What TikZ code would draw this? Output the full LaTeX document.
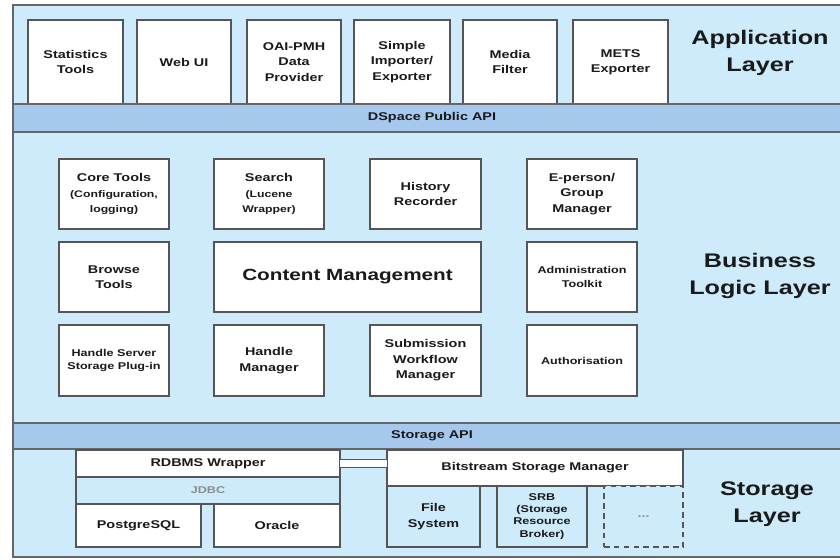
\documentclass[tikz,border=0pt]{standalone}
\usepackage{fontspec}
\setmainfont{Liberation Sans}[FakeStretch=1.28]
\definecolor{LayerBlue}{HTML}{CDEBFB}
\definecolor{ApiBlue}{HTML}{A6C8EC}
\definecolor{BoxLine}{HTML}{555555}
\definecolor{FrameLine}{HTML}{666666}
\definecolor{MutedText}{HTML}{8C8C8C}
\definecolor{TextColor}{HTML}{1A1A1A}
% block from pixel corners: name, x1, y1, x2, y2, style, text
\newcommand{\blockat}[7]{%
	\node[#6, minimum width={(#4-#2)*0.025cm}, minimum height={(#5-#3)*0.025cm}] (#1) at ({(#2+#4)/2},{(#3+#5)/2}) {#7};
}
\newcommand{\minor}[1]{{\fontsize{6.8}{9}\selectfont #1}}
\tikzset{
	unit/.style={draw=BoxLine, line width=1.1pt, fill=white, inner sep=0pt, align=center, text=TextColor, font=\bfseries\fontsize{8}{11}\selectfont},
	smallunit/.style={unit, font=\bfseries\fontsize{7}{9.5}\selectfont},
	tintunit/.style={unit, fill=LayerBlue},
	spareunit/.style={unit, fill=LayerBlue, dashed, dash pattern=on 4pt off 3pt, text=MutedText},
	apibar/.style={draw=FrameLine, line width=1.1pt, fill=ApiBlue, inner sep=0pt, text=TextColor, font=\bfseries\fontsize{8}{11}\selectfont},
	layerlabel/.style={align=center, text=TextColor, font=\bfseries\fontsize{14}{19}\selectfont},
	pipe/.style={draw=BoxLine, line width=1.1pt, double=white, double distance=4.5pt, shorten <=-0.7pt, shorten >=-0.7pt}
}

\begin{document}
\begin{tikzpicture}[x=0.025cm,y=-0.025cm]
	\useasboundingbox (0,0) rectangle (840,559);
	\fill[white] (0,0) rectangle (840,559);
	\draw[draw=FrameLine, line width=1.1pt, fill=LayerBlue] (13,5) rectangle (851,557);

	% Application layer
	\blockat{stats}{28}{20}{123}{104}{unit}{Statistics\\Tools}
	\blockat{webui}{137}{20}{231}{104}{unit}{Web UI}
	\blockat{oaipmh}{247}{20}{341}{104}{unit}{OAI-PMH\\Data\\Provider}
	\blockat{importer}{354}{20}{450}{104}{unit}{Simple\\Importer/\\Exporter}
	\blockat{media}{463}{20}{557}{104}{unit}{Media\\Filter}
	\blockat{mets}{573}{20}{668}{104}{unit}{METS\\Exporter}
	\node[layerlabel] (applabel) at (760,53) {Application\\Layer};

	\blockat{publicapi}{13}{104}{851}{132}{apibar}{DSpace Public API}

	% Business logic layer
	\blockat{coretools}{59}{159}{169}{229}{unit}{Core Tools\\\minor{(Configuration,}\\\minor{logging)}}
	\blockat{search}{214}{159}{324}{229}{unit}{Search\\\minor{(Lucene}\\\minor{Wrapper)}}
	\blockat{history}{370}{159}{481}{229}{unit}{History\\Recorder}
	\blockat{eperson}{527}{159}{637}{229}{unit}{E-person/\\Group\\Manager}
	\blockat{browse}{59}{242}{169}{312}{unit}{Browse\\Tools}
	\blockat{content}{214}{242}{481}{312}{unit, font=\bfseries\fontsize{11.5}{14}\selectfont}{Content Management}
	\blockat{admin}{527}{242}{637}{312}{smallunit}{Administration\\Toolkit}
	\blockat{handleserver}{59}{325}{169}{396}{smallunit}{Handle Server\\Storage Plug-in}
	\blockat{handlemgr}{214}{325}{324}{396}{unit}{Handle\\Manager}
	\blockat{submission}{370}{325}{481}{396}{unit}{Submission\\Workflow\\Manager}
	\blockat{authz}{527}{325}{637}{396}{smallunit}{Authorisation}
	\node[layerlabel] (bizlabel) at (760,276) {Business\\Logic Layer};

	\blockat{storageapi}{13}{423}{851}{449}{apibar}{Storage API}

	% Storage layer
	\blockat{rdbms}{76}{450}{340}{477}{unit}{RDBMS Wrapper}
	\blockat{jdbc}{76}{477}{340}{504}{tintunit, text=MutedText, font=\bfseries\fontsize{7}{9}\selectfont}{JDBC}
	\blockat{postgres}{76}{504}{201}{547}{unit}{PostgreSQL}
	\blockat{oracle}{214}{504}{340}{547}{unit}{Oracle}
	\blockat{bsm}{387}{450}{683}{486}{unit}{Bitstream Storage Manager}
	\blockat{filesys}{387}{486}{480}{547}{tintunit}{File\\System}
	\blockat{srb}{497}{486}{587}{547}{tintunit, font=\bfseries\fontsize{7}{8.6}\selectfont}{SRB\\(Storage\\Resource\\Broker)}
	\blockat{more}{604}{486}{683}{547}{spareunit}{...}
	\node[layerlabel] (storelabel) at (767,504) {Storage\\Layer};

	% Connector
	\draw[pipe] (rdbms.east) -- (rdbms.east -| bsm.west);
\end{tikzpicture}
\end{document}
